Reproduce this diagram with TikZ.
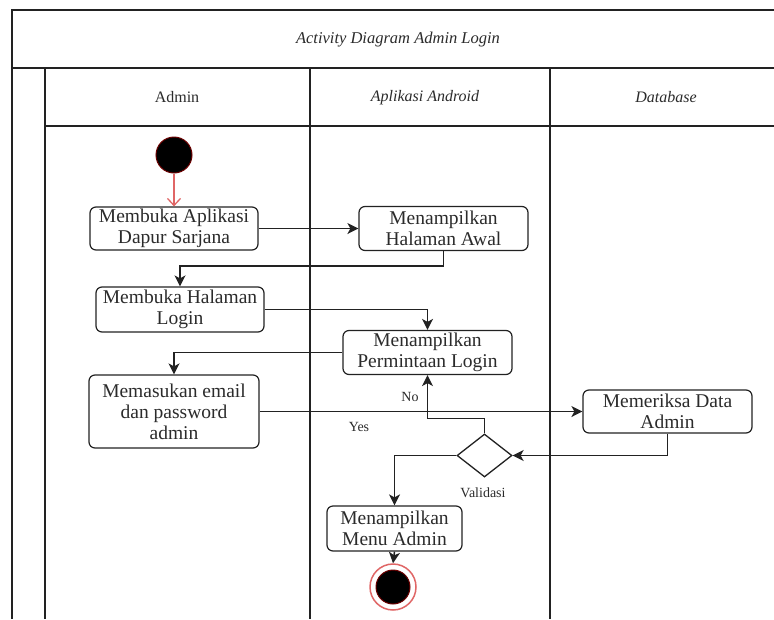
\documentclass[tikz,border=0pt]{standalone}
\usepackage{fontspec}
\setmainfont{Liberation Serif}
\usetikzlibrary{arrows.meta,shapes.geometric,calc}

\definecolor{ink}{HTML}{222222}
\definecolor{txt}{HTML}{2B2B2B}
\definecolor{startred}{HTML}{E06666}
\definecolor{dotedge}{HTML}{6B0000}

\tikzset{
  frameline/.style={draw=ink, line width=1.6pt},
  actbox/.style={draw=ink, line width=1.2pt, rounded corners=6pt, fill=white,
    align=center, inner sep=0pt, text=txt,
    font=\fontsize{19.5}{21}\selectfont},
  flow/.style={draw=ink, line width=1.5pt,
    -{Stealth[length=11pt,width=11pt,inset=3pt]}},
  decision/.style={diamond, draw=ink, line width=1.3pt, fill=white,
    inner sep=0pt, minimum width=55pt, minimum height=43pt},
  lbl/.style={text=txt, font=\fontsize{14}{16}\selectfont, inner sep=0pt},
  hdr/.style={text=txt, font=\fontsize{16}{18}\selectfont, inner sep=0pt},
}

\begin{document}
\begin{tikzpicture}[x=1pt, y=-1pt]
  \useasboundingbox (0,0) rectangle (774,619);
  \fill[white] (0,0) rectangle (774,619);

  % swimlane frame
  \draw[frameline] (774,10) -- (12,10) -- (12,619);
  \draw[frameline] (12,68) -- (774,68);
  \draw[frameline] (45,68) -- (45,619);
  \draw[frameline] (45,126) -- (774,126);
  \draw[frameline] (310,68) -- (310,619);
  \draw[frameline] (550,68) -- (550,619);

  % titles
  \node[hdr, font=\fontsize{16.5}{18}\selectfont\itshape] (title) at (398,40) {Activity Diagram Admin Login};
  \node[hdr] (laneA) at (177,97) {Admin};
  \node[hdr, font=\fontsize{16}{18}\selectfont\itshape] (laneB) at (425,98) {Aplikasi Android};
  \node[hdr, font=\fontsize{16}{18}\selectfont\itshape] (laneC) at (666,97) {Database};

  % start and end
  \node[circle, fill=black, draw=dotedge, line width=1pt, minimum size=36pt, inner sep=0pt] (start) at (174,155) {};
  \node[circle, draw=startred, line width=1.5pt, fill=white, minimum size=46pt, inner sep=0pt] (end) at (393,587) {};
  \node[circle, fill=black, draw=dotedge, line width=1pt, minimum size=34pt, inner sep=0pt] (endcore) at (393,587) {};

  % activities
  \node[actbox, minimum width=168pt, minimum height=43pt] (b1) at (174,228.5) {Membuka Aplikasi\\Dapur Sarjana};
  \node[actbox, minimum width=169pt, minimum height=44pt] (b2) at (443.5,228.5) {Menampilkan\\Halaman Awal};
  \node[actbox, minimum width=168pt, minimum height=45pt] (b3) at (180,309.5) {Membuka Halaman\\Login};
  \node[actbox, minimum width=169pt, minimum height=44pt] (b4) at (427.5,352.5) {Menampilkan\\Permintaan Login};
  \node[actbox, minimum width=170pt, minimum height=73pt] (b5) at (174,411.5) {Memasukan email\\dan password\\admin};
  \node[actbox, minimum width=169pt, minimum height=43pt] (b6) at (667.5,411.5) {Memeriksa Data\\Admin};
  \node[actbox, minimum width=135pt, minimum height=45pt] (b7) at (394.5,528.5) {Menampilkan\\Menu Admin};
  \node[decision] (d) at (484.5,455.5) {};

  % flows
  \draw[draw=startred, line width=1.3pt, -{Straight Barb[length=7pt,width=13pt]}] (start) -- (b1);
  \draw[flow] (b1.east) -- (b1.east -| b2.west);
  \draw[flow] (b2.south) -- ++(0,15) -| (b3.north);
  \draw[flow] (b3.east) -| (b4.north);
  \draw[flow] (b4.west) -| (b5.north);
  \draw[flow] (b5.east) -- (b5.east -| b6.west);
  \draw[flow] (b6.south) |- (d.east);
  \draw[flow] (d.north) -- ++(0,-15) -| (b4.south);
  \draw[flow] (d.west) -| (b7.north);
  \draw[flow] (b7.south) -- (end.north);

  % guard labels
  \node[lbl] (no) at (410,397) {No};
  \node[lbl] (yes) at (359,427) {Yes};
  \node[lbl] (val) at (483,493) {Validasi};
\end{tikzpicture}
\end{document}
